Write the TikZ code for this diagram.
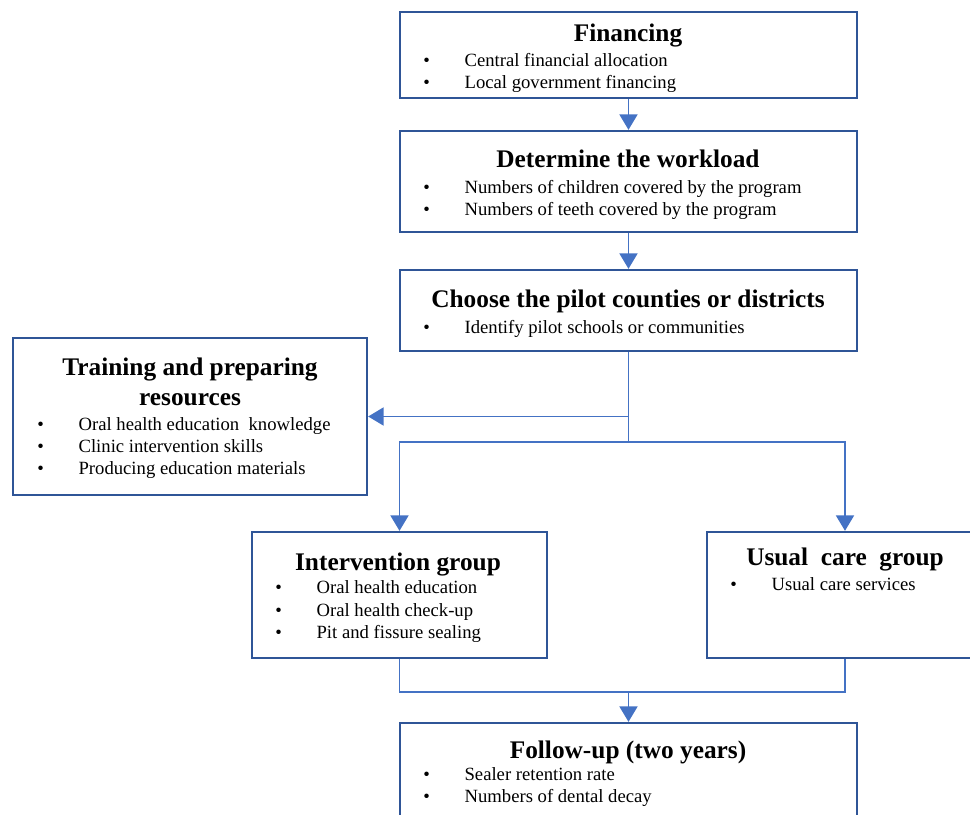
\documentclass[tikz,border=0pt]{standalone}
\usepackage{fontspec}
\setmainfont{Liberation Serif}
\usepackage{xcolor}
\usetikzlibrary{arrows.meta}

\definecolor{boxblue}{RGB}{47,85,151}
\definecolor{linkblue}{RGB}{68,114,196}
\newcommand{\itm}[1]{\makebox[31pt][l]{\textbullet}#1}

\begin{document}
\begin{tikzpicture}[x=0.75pt,y=0.75pt,yscale=-1,xscale=1,
  stage/.style={draw=boxblue,line width=1.8pt,fill=white,rectangle,inner sep=0pt,minimum width=342.75pt},
  head/.style={anchor=base,inner sep=0pt,font=\fontsize{19}{23}\selectfont\bfseries},
  entry/.style={anchor=base west,inner sep=0pt,font=\fontsize{14}{16}\selectfont},
  link/.style={draw=linkblue,line width=1.1pt},
  arr/.style={link,-{Triangle[length=11.5pt,width=13.5pt]}}]
\useasboundingbox (0,0) rectangle (970,814);
\clip (0,0) rectangle (970,814);

%Shape: Rectangle [Financing]
\node[stage,minimum height=64.5pt] (fin) at (628.5,55) {};
%Shape: Rectangle [Workload]
\node[stage,minimum height=75.75pt] (work) at (628.5,181.5) {};
%Shape: Rectangle [Pilot]
\node[stage,minimum height=60.75pt] (pilot) at (628.5,310.5) {};
%Shape: Rectangle [Training]
\node[stage,minimum width=265.5pt,minimum height=117.75pt] (train) at (190,416.5) {};
%Shape: Rectangle [Intervention]
\node[stage,minimum width=221.25pt,minimum height=94.5pt] (interv) at (399.5,595) {};
%Shape: Rectangle [Usual care]
\node[stage,minimum width=207pt,minimum height=94.5pt] (usual) at (845,595) {};
%Shape: Rectangle [Follow-up]
\node[stage,minimum height=80.25pt] (follow) at (628.5,776.5) {};

%Straight Lines
\coordinate (split) at (628.5,442);
\coordinate (join) at (628.5,692);
\draw[arr] (fin) -- (work);
\draw[arr] (work) -- (pilot);
\draw[link] (pilot.south) -- (split);
\draw[arr] (pilot.south |- train.east) -- (train.east);
\draw[arr] (split) -| (interv.north);
\draw[arr] (split) -| (usual.north);
\draw[link] (interv.south) |- (join) -| (usual.south);
\draw[arr] (join) -- (follow.north);

% Text Node
\node[head] (fin-h) at (628,41) {Financing};
\node[entry] (fin-a) at (423,66) {\itm{Central financial allocation}};
\node[entry] (fin-b) at (423,88) {\itm{Local government financing}};
% Text Node
\node[head] (work-h) at (628,167) {Determine the workload};
\node[entry] (work-a) at (423,193) {\itm{Numbers of children covered by the program}};
\node[entry] (work-b) at (423,215) {\itm{Numbers of teeth covered by the program}};
% Text Node
\node[head] (pilot-h) at (628,307) {Choose the pilot counties or districts};
\node[entry] (pilot-a) at (423,333) {\itm{Identify pilot schools or communities}};
% Text Node
\node[head] (train-h) at (190,375) {Training and preparing};
\node[head] (train-h2) at (190,405) {resources};
\node[entry] (train-a) at (37,430) {\itm{Oral health education~ knowledge}};
\node[entry] (train-b) at (37,452) {\itm{Clinic intervention skills}};
\node[entry] (train-c) at (37,474) {\itm{Producing education materials}};
% Text Node
\node[head] (interv-h) at (398,570) {Intervention group};
\node[entry] (interv-a) at (275,593) {\itm{Oral health education}};
\node[entry] (interv-b) at (275,616) {\itm{Oral health check-up}};
\node[entry] (interv-c) at (275,638) {\itm{Pit and fissure sealing}};
% Text Node
\node[head] (usual-h) at (845,565) {Usual~ care~ group};
\node[entry] (usual-a) at (730,590) {\itm{Usual care services}};
% Text Node
\node[head] (follow-h) at (628,758) {Follow-up (two years)};
\node[entry] (follow-a) at (423,780) {\itm{Sealer retention rate}};
\node[entry] (follow-b) at (423,802) {\itm{Numbers of dental decay}};

\end{tikzpicture}
\end{document}
